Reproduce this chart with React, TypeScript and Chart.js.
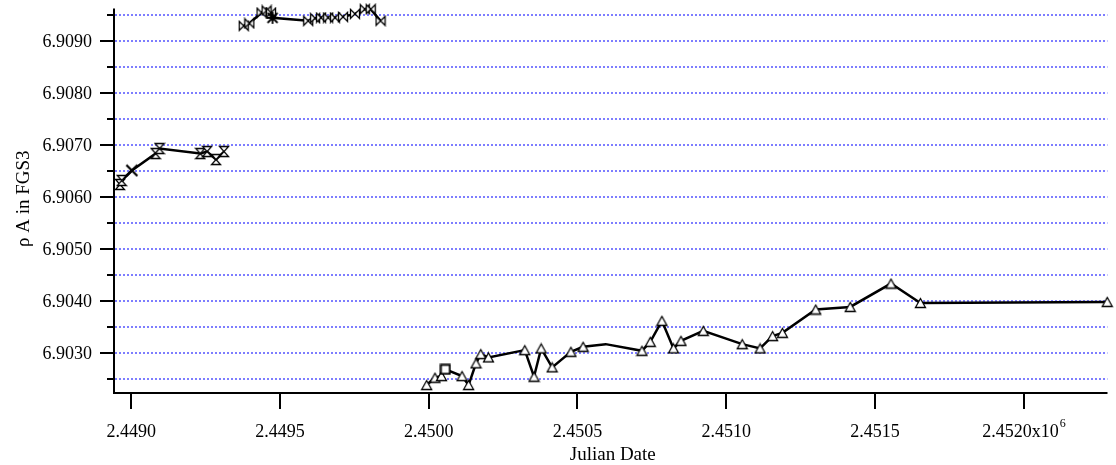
import React, { useEffect, useRef } from "react";
import { Chart, registerables } from "chart.js";
Chart.register(...registerables);

// ---- data ----
const seriesA_jd = [2448962, 2448968, 2449002, 2449082, 2449095, 2449232, 2449255, 2449285, 2449312];
const seriesA_val = [6.906241, 6.906318, 6.90651, 6.906835, 6.906931, 6.906835, 6.906874, 6.90672, 6.906874];

const seriesB_jd = [2449378, 2449397, 2449438, 2449455, 2449470, 2449475, 2449595, 2449618, 2449638, 2449662, 2449685, 2449712, 2449752, 2449785, 2449805, 2449838];
const seriesB_val = [6.909287, 6.909335, 6.909542, 6.909584, 6.909542, 6.909441, 6.909383, 6.909435, 6.909446, 6.909446, 6.909446, 6.90946, 6.909517, 6.909607, 6.909607, 6.909383];

const seriesC_jd = [2449993, 2450021, 2450043, 2450056, 2450112, 2450134, 2450159, 2450175, 2450201, 2450323, 2450354, 2450378, 2450415, 2450478, 2450519, 2450595, 2450717, 2450745, 2450784, 2450823, 2450848, 2450923, 2451054, 2451114, 2451156, 2451189, 2451301, 2451417, 2451554, 2451653, 2452281];
const seriesC_val = [6.902391, 6.902531, 6.902563, 6.902692, 6.902563, 6.902391, 6.902807, 6.902985, 6.902921, 6.903061, 6.90255, 6.903094, 6.90273, 6.903029, 6.903125, 6.903176, 6.903048, 6.90322, 6.903623, 6.903094, 6.903239, 6.903431, 6.903176, 6.903094, 6.90333, 6.903393, 6.903841, 6.903891, 6.904339, 6.903967, 6.903987];

const xTicks = [2449000, 2449500, 2450000, 2450500, 2451000, 2451500, 2452000];
const xTickLabels = ["2.4490", "2.4495", "2.4500", "2.4505", "2.4510", "2.4515", "2.4520"];
const xTickExponent = "6";
const yGridValues = [6.9025, 6.903, 6.9035, 6.904, 6.9045, 6.905, 6.9055, 6.906, 6.9065, 6.907, 6.9075, 6.908, 6.9085, 6.909, 6.9095];
const yMajorTicks = [6.903, 6.904, 6.905, 6.906, 6.907, 6.908, 6.909];
const yTickLabels = ["6.9030", "6.9040", "6.9050", "6.9060", "6.9070", "6.9080", "6.9090"];
const xTitle = "Julian Date";
const yTitle = "ρ A in FGS3";

const X_MIN = 2448942;
const X_MAX = 2452282;
const Y_MIN = 6.902238;
const Y_MAX = 6.90962;

// marker choices (style only)
const A_CROSS_INDEX = 2;
const B_STAR_INDEX = 5;
const C_SQUARE_INDEX = 3;
const C_HIDDEN_INDEX = 15;

const FONT = '"Liberation Serif", "Times New Roman", serif';

function makeMarker(w: number, h: number, draw: (c: CanvasRenderingContext2D) => void) {
  const cv = document.createElement("canvas");
  cv.width = w;
  cv.height = h;
  const c = cv.getContext("2d")!;
  draw(c);
  return cv;
}

const axesPlugin = {
  id: "igorAxes",
  beforeDatasetsDraw(chart: any) {
    const { ctx, chartArea, scales } = chart;
    const y = scales.y;
    ctx.save();
    ctx.strokeStyle = "rgb(40,40,255)";
    ctx.lineWidth = 1.2;
    ctx.setLineDash([2, 2]);
    yGridValues.forEach((v) => {
      const py = Math.round(y.getPixelForValue(v));
      ctx.beginPath();
      ctx.moveTo(chartArea.left + 1, py);
      ctx.lineTo(chartArea.right, py);
      ctx.stroke();
    });
    ctx.restore();
  },
  afterDraw(chart: any) {
    const { ctx, chartArea, scales } = chart;
    const x = scales.x;
    const y = scales.y;
    const L = chartArea.left;
    const B = chartArea.bottom;
    ctx.save();
    ctx.strokeStyle = "#000";
    ctx.fillStyle = "#000";
    ctx.lineWidth = 2;
    ctx.beginPath();
    ctx.moveTo(L, chartArea.top);
    ctx.lineTo(L, B);
    ctx.lineTo(chartArea.right, B);
    ctx.stroke();
    yGridValues.forEach((v) => {
      const py = Math.round(y.getPixelForValue(v));
      const major = yMajorTicks.some((m) => Math.abs(m - v) < 1e-7);
      ctx.beginPath();
      ctx.moveTo(L - (major ? 14 : 7), py);
      ctx.lineTo(L, py);
      ctx.stroke();
    });
    xTicks.forEach((v) => {
      const px = Math.round(x.getPixelForValue(v));
      ctx.beginPath();
      ctx.moveTo(px, B);
      ctx.lineTo(px, B + 16);
      ctx.stroke();
    });
    ctx.font = `18px ${FONT}`;
    ctx.textAlign = "right";
    ctx.textBaseline = "middle";
    yMajorTicks.forEach((v, i) => {
      ctx.fillText(yTickLabels[i], L - 22, y.getPixelForValue(v) + 1);
    });
    ctx.textBaseline = "alphabetic";
    xTicks.forEach((v, i) => {
      const px = x.getPixelForValue(v);
      const last = i === xTicks.length - 1;
      if (!last) {
        ctx.textAlign = "center";
        ctx.font = `18px ${FONT}`;
        ctx.fillText(xTickLabels[i], px, B + 44);
      } else {
        const main = xTickLabels[i] + "x10";
        ctx.font = `18px ${FONT}`;
        const w1 = ctx.measureText(main).width;
        ctx.font = `12px ${FONT}`;
        const w2 = ctx.measureText(xTickExponent).width;
        const start = px - (w1 + w2) / 2;
        ctx.textAlign = "left";
        ctx.font = `18px ${FONT}`;
        ctx.fillText(main, start, B + 44);
        ctx.font = `12px ${FONT}`;
        ctx.fillText(xTickExponent, start + w1 + 1, B + 34);
      }
    });
    ctx.font = `19px ${FONT}`;
    ctx.textAlign = "center";
    ctx.fillText(xTitle, (L + chartArea.right) / 2 + 2, B + 67);
    ctx.save();
    ctx.translate(29, (chartArea.top + B) / 2 - 2);
    ctx.rotate(-Math.PI / 2);
    ctx.textBaseline = "alphabetic";
    ctx.fillText(yTitle, 0, 0);
    ctx.restore();
    ctx.restore();
  },
};

export default function App() {
  const ref = useRef<HTMLCanvasElement | null>(null);
  useEffect(() => {
    document.body.style.margin = "0";
    document.body.style.overflow = "hidden";
    const canvas = ref.current!;

    const outline = (c: CanvasRenderingContext2D) => {
      c.fillStyle = "#fff";
      c.fill();
      c.strokeStyle = "#000";
      c.lineWidth = 1.3;
      c.stroke();
    };
    const hourglass = makeMarker(12, 13, (c) => {
      c.beginPath();
      c.moveTo(1.5, 1.5);
      c.lineTo(10.5, 1.5);
      c.lineTo(1.5, 11.5);
      c.lineTo(10.5, 11.5);
      c.closePath();
      outline(c);
    });
    const bowtie = makeMarker(12, 12, (c) => {
      c.beginPath();
      c.moveTo(1.5, 1.5);
      c.lineTo(1.5, 10.5);
      c.lineTo(10.5, 1.5);
      c.lineTo(10.5, 10.5);
      c.closePath();
      outline(c);
    });
    const triangle = makeMarker(13, 12, (c) => {
      c.beginPath();
      c.moveTo(6.5, 1.5);
      c.lineTo(11.5, 10.5);
      c.lineTo(1.5, 10.5);
      c.closePath();
      outline(c);
    });
    const cross = makeMarker(14, 14, (c) => {
      c.strokeStyle = "#000";
      c.lineWidth = 2.2;
      c.beginPath();
      c.moveTo(1.5, 1.5);
      c.lineTo(12.5, 12.5);
      c.moveTo(12.5, 1.5);
      c.lineTo(1.5, 12.5);
      c.stroke();
    });
    const star = makeMarker(14, 14, (c) => {
      c.strokeStyle = "#000";
      c.lineWidth = 1.8;
      c.beginPath();
      c.moveTo(2, 2);
      c.lineTo(12, 12);
      c.moveTo(12, 2);
      c.lineTo(2, 12);
      c.moveTo(7, 1);
      c.lineTo(7, 13);
      c.moveTo(1, 7);
      c.lineTo(13, 7);
      c.stroke();
    });
    const square = makeMarker(12, 12, (c) => {
      c.fillStyle = "#fff";
      c.fillRect(1.5, 1.5, 9, 9);
      c.strokeStyle = "#000";
      c.lineWidth = 2;
      c.strokeRect(1.5, 1.5, 9, 9);
    });

    const toPts = (xs: number[], ys: number[]) => xs.map((v, i) => ({ x: v, y: ys[i] }));
    const common = {
      borderColor: "#000",
      borderWidth: 2.5,
      tension: 0,
      clip: false as any,
      pointRadius: 6,
      showLine: true,
      fill: false,
    };

    const chart = new Chart(canvas, {
      type: "scatter",
      data: {
        datasets: [
          {
            ...common,
            label: "A",
            data: toPts(seriesA_jd, seriesA_val),
            pointStyle: (ctx: any) => (ctx.dataIndex === A_CROSS_INDEX ? cross : hourglass),
          },
          {
            ...common,
            label: "B",
            data: toPts(seriesB_jd, seriesB_val),
            pointStyle: (ctx: any) => (ctx.dataIndex === B_STAR_INDEX ? star : bowtie),
          },
          {
            ...common,
            label: "C",
            data: toPts(seriesC_jd, seriesC_val),
            pointRadius: (ctx: any) => (ctx.dataIndex === C_HIDDEN_INDEX ? 0 : 6),
            pointStyle: (ctx: any) => (ctx.dataIndex === C_SQUARE_INDEX ? square : triangle),
          },
        ] as any,
      },
      options: {
        animation: false,
        responsive: false,
        events: [],
        layout: { padding: { left: 114, top: 8, right: 0, bottom: 72 } },
        plugins: { legend: { display: false }, tooltip: { enabled: false } },
        scales: {
          x: { type: "linear", min: X_MIN, max: X_MAX, display: false },
          y: { type: "linear", min: Y_MIN, max: Y_MAX, display: false },
        },
      },
      plugins: [axesPlugin],
    } as any);
    return () => chart.destroy();
  }, []);
  return <canvas ref={ref} width={1116} height={465} style={{ display: "block" }} />;
}
